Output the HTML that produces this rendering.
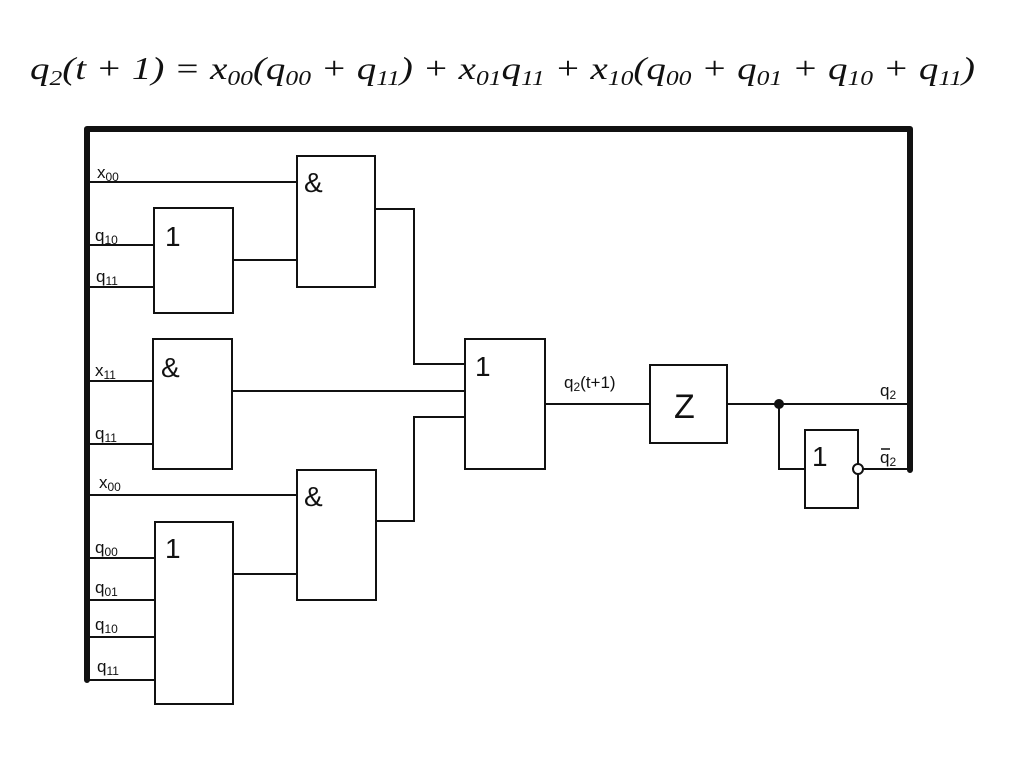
<!DOCTYPE html>
<html><head><meta charset="utf-8"><style>
html,body{margin:0;padding:0;background:#fff;width:1024px;height:767px;overflow:hidden}
svg{display:block}
text{font-family:"Liberation Sans",Arial,sans-serif;fill:#111}
.m{font-family:"Liberation Serif",serif;font-style:italic}
</style></head><body>
<svg width="1024" height="767" viewBox="0 0 1024 767" xmlns="http://www.w3.org/2000/svg">
<text class="m" x="30" y="79" font-size="32" textLength="945" lengthAdjust="spacingAndGlyphs" fill="#000">q<tspan font-size="21" dy="6">2</tspan><tspan dy="-6">(t + 1) = x</tspan><tspan font-size="21" dy="6">00</tspan><tspan dy="-6">(q</tspan><tspan font-size="21" dy="6">00</tspan><tspan dy="-6"> + q</tspan><tspan font-size="21" dy="6">11</tspan><tspan dy="-6">) + x</tspan><tspan font-size="21" dy="6">01</tspan><tspan dy="-6">q</tspan><tspan font-size="21" dy="6">11</tspan><tspan dy="-6"> + x</tspan><tspan font-size="21" dy="6">10</tspan><tspan dy="-6">(q</tspan><tspan font-size="21" dy="6">00</tspan><tspan dy="-6"> + q</tspan><tspan font-size="21" dy="6">01</tspan><tspan dy="-6"> + q</tspan><tspan font-size="21" dy="6">10</tspan><tspan dy="-6"> + q</tspan><tspan font-size="21" dy="6">11</tspan><tspan dy="-6">)</tspan></text>
<g stroke="#111" fill="none">
<path d="M87 680 V129 H910 V470" stroke-width="6" stroke-linejoin="round" stroke-linecap="round"/>
<g stroke-width="2">
<rect x="297" y="156" width="78" height="131"/>
<rect x="154" y="208" width="79" height="105"/>
<rect x="153" y="339" width="79" height="130"/>
<rect x="465" y="339" width="80" height="130"/>
<rect x="297" y="470" width="79" height="130"/>
<rect x="155" y="522" width="78" height="182"/>
<rect x="650" y="365" width="77" height="78"/>
<rect x="805" y="430" width="53" height="78"/>
<path d="M87 182H297 M87 245H154 M87 287H154 M233 260H297 M375 209H414V364H465"/>
<path d="M87 381H153 M87 444H153 M232 391H465"/>
<path d="M87 495H297 M233 574H297 M376 521H414V417H465"/>
<path d="M87 558H155 M87 600H155 M87 637H155 M87 680H155"/>
<path d="M545 404H650 M727 404H910 M779 404V469H805 M863 469H910"/>
<circle cx="858" cy="469" r="5" fill="#fff"/>
</g>
<circle cx="779" cy="404" r="5" fill="#111" stroke="none"/>
</g>
<g font-size="17">
<text x="97" y="178">x<tspan font-size="12" dy="3">00</tspan></text>
<text x="95" y="241">q<tspan font-size="12" dy="3">10</tspan></text>
<text x="96" y="282">q<tspan font-size="12" dy="3">11</tspan></text>
<text x="95" y="376">x<tspan font-size="12" dy="3">11</tspan></text>
<text x="95" y="439">q<tspan font-size="12" dy="3">11</tspan></text>
<text x="99" y="488">x<tspan font-size="12" dy="3">00</tspan></text>
<text x="95" y="553">q<tspan font-size="12" dy="3">00</tspan></text>
<text x="95" y="593">q<tspan font-size="12" dy="3">01</tspan></text>
<text x="95" y="630">q<tspan font-size="12" dy="3">10</tspan></text>
<text x="97" y="672">q<tspan font-size="12" dy="3">11</tspan></text>
<text x="564" y="388">q<tspan font-size="12" dy="3">2</tspan><tspan dy="-3">(t+1)</tspan></text>
<text x="880" y="396">q<tspan font-size="12" dy="3">2</tspan></text>
<text x="880" y="463">q<tspan font-size="12" dy="3">2</tspan></text>
</g>
<line x1="881" y1="449" x2="890" y2="449" stroke="#111" stroke-width="1.5"/>
<g font-size="28">
<text x="304" y="192">&amp;</text>
<text x="165" y="246">1</text>
<text x="161" y="377">&amp;</text>
<text x="475" y="376">1</text>
<text x="304" y="506">&amp;</text>
<text x="165" y="558">1</text>
<text x="812" y="466">1</text>
<text x="674" y="418" font-size="34">Z</text>
</g>
</svg>
</body></html>
